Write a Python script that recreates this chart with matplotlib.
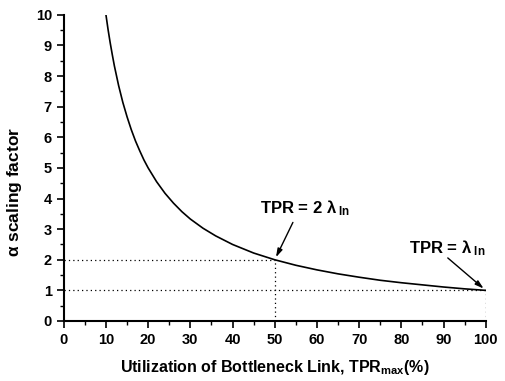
import matplotlib
matplotlib.use("Agg")
import matplotlib.pyplot as plt
from matplotlib.ticker import MultipleLocator

plt.rcParams['font.family'] = ['Liberation Sans', 'DejaVu Sans']
plt.rcParams['font.weight'] = 'bold'
plt.rcParams['mathtext.fontset'] = 'custom'
plt.rcParams['mathtext.rm'] = 'Liberation Sans:bold'
plt.rcParams['mathtext.it'] = 'Liberation Sans:bold'
plt.rcParams['mathtext.bf'] = 'Liberation Sans:bold'

# utilization (%) and alpha scaling factor along the curve
util = [10, 10.5, 11, 11.5, 12, 13, 14, 15, 16, 17, 18, 19, 20, 22, 24, 26, 28,
        30, 33, 36, 40, 45, 50, 55, 60, 65, 70, 75, 80, 85, 90, 95, 100]
alpha = [10.0, 9.52, 9.09, 8.70, 8.33, 7.69, 7.14, 6.67, 6.25, 5.88, 5.56,
         5.26, 5.0, 4.55, 4.17, 3.85, 3.57, 3.33, 3.03, 2.78, 2.5, 2.22, 2.0,
         1.82, 1.67, 1.54, 1.43, 1.33, 1.25, 1.18, 1.11, 1.05, 1.0]

# marked operating points
mark_x = [50, 100]
mark_y = [2, 1]
mark_txt = [r'TPR = 2 $\lambda_{\rm\ In}$', r'TPR = $\lambda_{\rm\ In}$']
mark_txt_pos = [(46.6, 3.53), (81.8, 2.22)]
arrow_from = [(54.3, 3.22), (91.0, 2.06)]

xticks = list(range(0, 101, 10))
yticks = list(range(0, 11))

fig = plt.figure(figsize=(5.06, 3.81), dpi=100)
ax = fig.add_axes([0.126, 0.1575, 0.834, 0.8035])

ax.plot(util, alpha, color='black', lw=1.2)

for mx, my, txt, tp, af in zip(mark_x, mark_y, mark_txt, mark_txt_pos, arrow_from):
    ax.plot([0, mx], [my, my], color='black', ls=(0, (1, 2.5)), lw=0.9)
    ax.plot([mx, mx], [0, my], color='black', ls=(0, (1, 2.5)), lw=0.9)
    ax.text(tp[0], tp[1], txt, fontsize=12, fontweight='bold',
            ha='left', va='baseline')
    ax.annotate('', xy=(mx, my), xytext=af,
                arrowprops=dict(arrowstyle='-|>,head_length=0.5,head_width=0.15',
                                color='black', lw=1.0, shrinkA=0, shrinkB=2))

ax.set_xlim(0, 100)
ax.set_ylim(0, 10)
ax.set_xticks(xticks)
ax.set_yticks(yticks)
ax.xaxis.set_minor_locator(MultipleLocator(5))
ax.yaxis.set_minor_locator(MultipleLocator(0.5))
ax.tick_params(which='major', direction='out', length=5, width=1.2, labelsize=10.5)
ax.tick_params(which='minor', direction='out', length=3, width=1.0)
for lab in ax.get_xticklabels() + ax.get_yticklabels():
    lab.set_fontweight('bold')

ax.spines['top'].set_visible(False)
ax.spines['right'].set_visible(False)
ax.spines['left'].set_linewidth(1.5)
ax.spines['bottom'].set_linewidth(1.5)

ax.set_xlabel(r'Utilization of Bottleneck Link, TPR$_{\rm max}$(%)',
              fontsize=11.5, fontweight='bold')
ax.set_ylabel(r'$\alpha$ scaling factor', fontsize=12.5, fontweight='bold')
ax.xaxis.set_label_coords(0.5, -0.12)
ax.yaxis.set_label_coords(-0.095, 0.42)

fig.savefig('out.png', dpi=100)
